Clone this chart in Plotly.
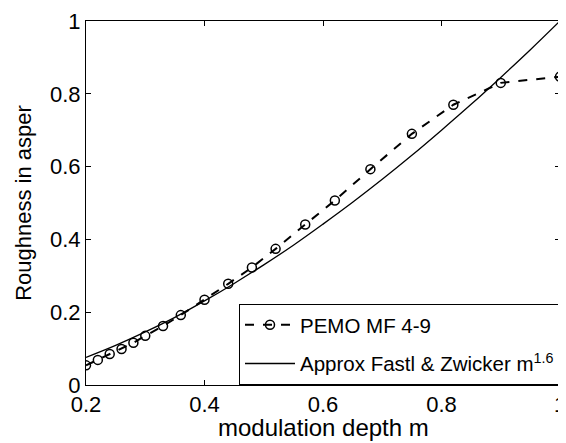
import plotly.graph_objects as go

# PEMO MF 4-9 model output
pemo_m = [0.20, 0.22, 0.24, 0.26, 0.28, 0.30, 0.33, 0.36, 0.40, 0.44,
          0.48, 0.52, 0.57, 0.62, 0.68, 0.75, 0.82, 0.90, 1.00]
pemo_r = [0.054, 0.069, 0.085, 0.099, 0.116, 0.135, 0.162, 0.192, 0.234, 0.278,
          0.323, 0.374, 0.441, 0.507, 0.593, 0.690, 0.770, 0.830, 0.847]

# Approximation by Fastl & Zwicker (m^1.6)
approx_m = [0.20, 0.25, 0.30, 0.35, 0.40, 0.45, 0.50, 0.55, 0.60,
            0.65, 0.70, 0.75, 0.80, 0.85, 0.90, 0.95, 1.00]
approx_r = [0.076, 0.109, 0.146, 0.186, 0.231, 0.279, 0.330, 0.384, 0.442,
            0.502, 0.565, 0.631, 0.700, 0.771, 0.845, 0.921, 1.000]

x_ticks = [0.2, 0.4, 0.6, 0.8, 1.0]
x_tick_text = ["0.2", "0.4", "0.6", "0.8", "1"]
y_ticks = [0, 0.2, 0.4, 0.6, 0.8, 1.0]
y_tick_text = ["0", "0.2", "0.4", "0.6", "0.8", "1"]

FONT = "Liberation Sans, Arial"

fig = go.Figure()
fig.add_trace(go.Scatter(
    x=pemo_m, y=pemo_r, mode="lines+markers", name="PEMO MF 4-9",
    legendgroup="a",
    line=dict(color="black", width=2, dash="dash"),
    marker=dict(symbol="circle-open", size=9, color="black", line=dict(width=1.5)),
))
fig.add_trace(go.Scatter(
    x=approx_m, y=approx_r, mode="lines", name="Approx Fastl & Zwicker m<sup>1.6</sup>",
    legendgroup="b",
    line=dict(color="black", width=1.3, shape="spline"),
))

axis_common = dict(
    showgrid=False, zeroline=False, showline=True, linecolor="black", linewidth=1,
    mirror="ticks", ticks="inside", ticklen=5, tickcolor="black", automargin=False,
    tickfont=dict(family=FONT, size=22, color="black"),
)
fig.update_xaxes(range=[0.2, 1.0], tickvals=x_ticks, ticktext=x_tick_text,
                 ticklabelstandoff=0, **axis_common)
fig.update_yaxes(range=[0, 1.0], tickvals=y_ticks, ticktext=y_tick_text,
                 title=dict(text="Roughness in asper", standoff=12,
                            font=dict(family=FONT, size=22, color="black")),
                 **axis_common)

# x-axis title placed as an annotation just below the tick labels
fig.add_annotation(
    text="modulation depth m", xref="paper", yref="paper",
    x=0.5, y=-0.118, xanchor="center", yanchor="middle", showarrow=False,
    font=dict(family=FONT, size=24, color="black"),
)

# the page body adds an 8 px offset, so margins are shifted to compensate
fig.update_layout(
    width=566, height=443,
    margin=dict(l=78, r=14, t=13, b=66),
    paper_bgcolor="white", plot_bgcolor="white",
    showlegend=True,
    legend=dict(x=1, y=0, xanchor="right", yanchor="bottom",
                bgcolor="white", bordercolor="black", borderwidth=1,
                font=dict(family=FONT, size=20.5, color="black"),
                itemwidth=50, traceorder="grouped", tracegroupgap=9),
)

fig.write_html("out.html")
